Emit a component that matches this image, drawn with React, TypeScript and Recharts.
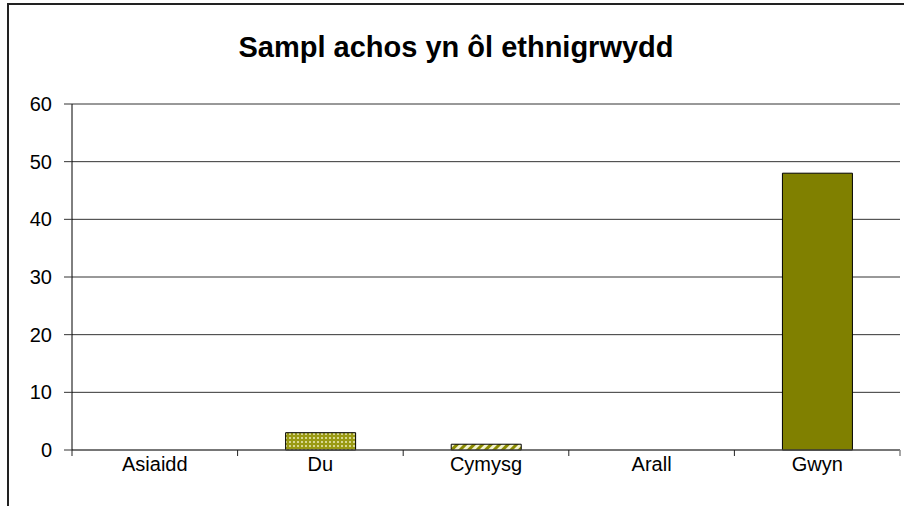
import React from 'react';
import { BarChart, Bar, XAxis, YAxis, CartesianGrid, Cell } from 'recharts';

const categories = ['Asiaidd', 'Du', 'Cymysg', 'Arall', 'Gwyn'];
const values = [0, 3, 1, 0, 48];
const yTicks = [0, 10, 20, 30, 40, 50, 60];
const fills = ['#808000', 'url(#dots)', 'url(#stripes)', '#808000', '#808000'];
const title = 'Sampl achos yn ôl ethnigrwydd';

const data = categories.map((c, i) => ({ name: c, value: values[i] }));

const FONT = '"Liberation Sans", Arial, sans-serif';

const CatTick = (props: any) => {
  const { x, y, payload, index, visibleTicksCount } = props;
  const off = payload && typeof payload.offset === 'number' ? payload.offset : 0;
  const last = index === (visibleTicksCount ?? categories.length) - 1;
  return (
    <g>
      <line x1={x - off} x2={x - off} y1={y} y2={y + 6} stroke="#222" strokeWidth={1} />
      {last && <line x1={x + off} x2={x + off} y1={y} y2={y + 6} stroke="#888" strokeWidth={1.5} />}
      <text x={x} y={y + 21} textAnchor="middle" fill="#000" fontSize={20} fontFamily={FONT}>
        {payload.value}
      </text>
    </g>
  );
};

export default function App() {
  return (
    <div style={{ position: 'absolute', left: 0, top: 0, width: 904, height: 506, background: '#fff', overflow: 'hidden' }}>
      <svg width={0} height={0} style={{ position: 'absolute' }}>
        <defs>
          <pattern id="dots" width={4} height={4} patternUnits="userSpaceOnUse">
            <rect width={4} height={4} fill="#9a9a14" />
            <rect x={1} y={1} width={2} height={2} fill="#d8d890" />
          </pattern>
          <pattern id="stripes" width={6} height={6} patternUnits="userSpaceOnUse" patternTransform="rotate(45)">
            <rect width={6} height={6} fill="#f4f4d0" />
            <rect width={3} height={6} fill="#8a8a00" />
          </pattern>
        </defs>
      </svg>
      <div
        style={{
          position: 'absolute', left: 7, top: 3, right: 0, bottom: 0,
          borderTop: '2px solid #222', borderLeft: '2px solid #222',
        }}
      />
      <div
        style={{
          position: 'absolute', left: 8, right: 0, top: 30, textAlign: 'center',
          fontFamily: FONT, fontWeight: 'bold', fontSize: 29, lineHeight: '34px', color: '#000',
        }}
      >
        {title}
      </div>
      <div style={{ position: 'absolute', left: 0, top: 0 }}>
        <BarChart
          width={904}
          height={506}
          data={data}
          margin={{ top: 104, right: 4, left: 8, bottom: 0 }}
          barCategoryGap="29%"
        >
          <CartesianGrid vertical={false} stroke="#333" strokeOpacity={1} />
          <XAxis
            dataKey="name"
            height={56}
            tickLine={false}
            tickSize={0}
            tickMargin={0}
            axisLine={{ stroke: '#555' }}
            tick={<CatTick />}
            interval={0}
          />
          <YAxis
            width={64}
            domain={[0, 60]}
            ticks={yTicks}
            tickSize={8}
            tickMargin={12}
            axisLine={{ stroke: '#000' }}
            tickLine={{ stroke: '#333' }}
            tick={{ fill: '#000', fontSize: 20, fontFamily: FONT }}
            interval={0}
          />
          <YAxis
            yAxisId="r"
            orientation="right"
            width={0}
            domain={[0, 60]}
            tick={false}
            tickLine={false}
            axisLine={{ stroke: '#888', strokeWidth: 1.5 }}
          />
          <Bar dataKey="value" stroke="#000" strokeWidth={1} isAnimationActive={false}>
            {data.map((d, i) => (
              <Cell key={d.name} fill={fills[i]} />
            ))}
          </Bar>
        </BarChart>
      </div>
    </div>
  );
}
